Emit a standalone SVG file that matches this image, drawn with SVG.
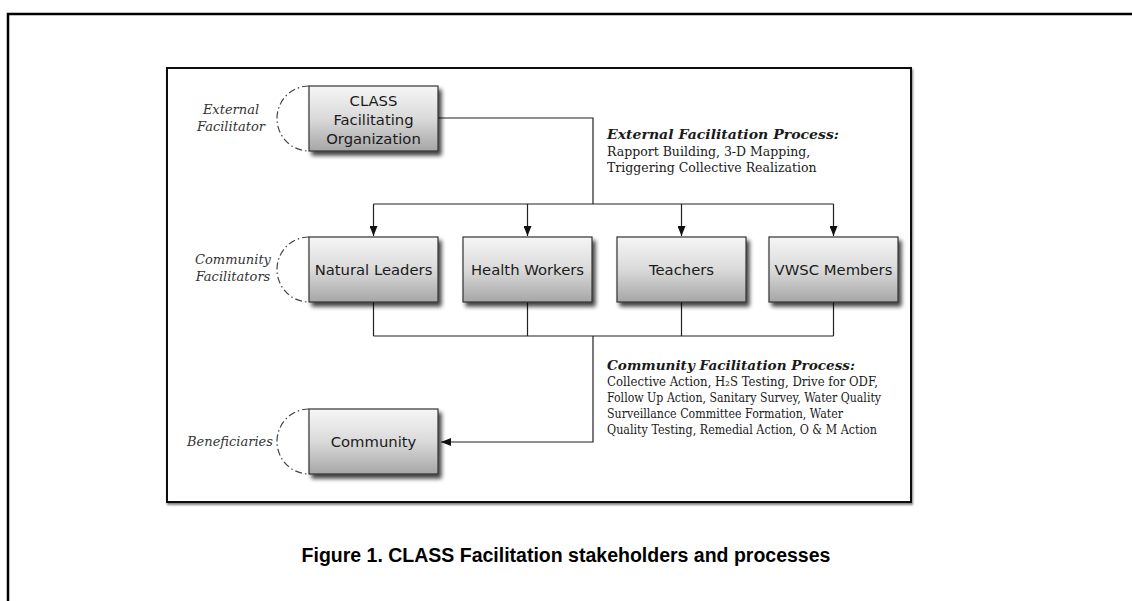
<svg xmlns="http://www.w3.org/2000/svg" width="1132" height="601" viewBox="0 0 1132 601">
<defs>
<linearGradient id="boxg" x1="0" y1="0" x2="0" y2="1">
<stop offset="0" stop-color="#f6f6f6"/>
<stop offset="0.5" stop-color="#dadada"/>
<stop offset="1" stop-color="#a6a6a6"/>
</linearGradient>
<filter id="sh" x="-10%" y="-10%" width="130%" height="140%">
<feGaussianBlur in="SourceAlpha" stdDeviation="2"/>
<feOffset dx="3" dy="4"/>
<feComponentTransfer><feFuncA type="linear" slope="0.75"/></feComponentTransfer>
<feMerge><feMergeNode/><feMergeNode in="SourceGraphic"/></feMerge>
</filter>
<filter id="fsh" x="-2%" y="-2%" width="104%" height="106%">
<feGaussianBlur in="SourceAlpha" stdDeviation="1"/>
<feOffset dx="1" dy="2"/>
<feComponentTransfer><feFuncA type="linear" slope="0.5"/></feComponentTransfer>
<feMerge><feMergeNode/><feMergeNode in="SourceGraphic"/></feMerge>
</filter>
<marker id="arr" markerUnits="userSpaceOnUse" markerWidth="10" markerHeight="8" refX="10" refY="4" orient="auto">
<path d="M0,0 L10,4 L0,8 z" fill="#111"/>
</marker>
<style>
.box{fill:url(#boxg);stroke:#333;stroke-width:1.2;filter:url(#sh)}
.bt{font-family:"DejaVu Sans","Liberation Sans",sans-serif;font-size:14.8px;fill:#1a1a1a;text-anchor:middle}
.arc{fill:none;stroke:#444;stroke-width:1.2;stroke-dasharray:7 3 1.5 3}
.lab{font-family:"DejaVu Serif",Georgia,serif;font-style:italic;font-size:13px;fill:#333;text-anchor:middle}
.ph{font-family:"DejaVu Serif",Georgia,serif;font-style:italic;font-weight:bold;font-size:13.5px;fill:#1a1a1a}
.pt{font-family:"DejaVu Serif",Georgia,serif;font-size:12.5px;fill:#1a1a1a}
.ln{fill:none;stroke:#222;stroke-width:1.2}
.cap{font-family:"Liberation Sans",Arial,sans-serif;font-weight:bold;font-size:19.5px;fill:#000;text-anchor:middle}
</style>
</defs>
<rect width="1132" height="601" fill="#fff"/>
<path d="M1132,14 H8 V601" fill="none" stroke="#000" stroke-width="2.5"/>
<rect x="167" y="68" width="744" height="434" fill="#fff" stroke="#111" stroke-width="2" filter="url(#fsh)"/>

<g id="connectors">
<path class="ln" d="M438,118 H593 V204"/>
<path class="ln" d="M373.5,204 H833.5"/>
<path class="ln" d="M373.5,204 V236" marker-end="url(#arr)"/>
<path class="ln" d="M527.5,204 V236" marker-end="url(#arr)"/>
<path class="ln" d="M681.5,204 V236" marker-end="url(#arr)"/>
<path class="ln" d="M833.5,204 V236" marker-end="url(#arr)"/>
<path class="ln" d="M373.5,302 V336 M527.5,302 V336 M681.5,302 V336 M833.5,302 V336"/>
<path class="ln" d="M373.5,336 H833.5"/>
<path class="ln" d="M593,336 V442 H441" marker-end="url(#arr)"/>
</g>

<g id="label-external">
<path class="arc" d="M309,86 A32,32.5 0 0 0 309,151"/>
<text class="lab" x="231" y="114">External</text>
<text class="lab" x="231" y="131">Facilitator</text>
</g>
<g id="node-class">
<rect class="box" x="309" y="86" width="129" height="65"/>
<text class="bt" x="373.5" y="106">CLASS</text>
<text class="bt" x="373.5" y="125">Facilitating</text>
<text class="bt" x="373.5" y="144">Organization</text>
</g>

<g id="label-community-facilitators">
<path class="arc" d="M309,237 A32,32.5 0 0 0 309,302"/>
<text class="lab" x="233" y="264">Community</text>
<text class="lab" x="233" y="281">Facilitators</text>
</g>
<g id="node-natural-leaders">
<rect class="box" x="309" y="237" width="129" height="65"/>
<text class="bt" x="373.5" y="275">Natural Leaders</text>
</g>
<g id="node-health-workers">
<rect class="box" x="463" y="237" width="129" height="65"/>
<text class="bt" x="527.5" y="275">Health Workers</text>
</g>
<g id="node-teachers">
<rect class="box" x="617" y="237" width="129" height="65"/>
<text class="bt" x="681.5" y="275">Teachers</text>
</g>
<g id="node-vwsc">
<rect class="box" x="769" y="237" width="129" height="65"/>
<text class="bt" x="833.5" y="275">VWSC Members</text>
</g>

<g id="label-beneficiaries">
<path class="arc" d="M309,409 A32,32.5 0 0 0 309,474"/>
<text class="lab" x="230" y="446">Beneficiaries</text>
</g>
<g id="node-community">
<rect class="box" x="309" y="409" width="129" height="65"/>
<text class="bt" x="373.5" y="447">Community</text>
</g>

<g id="text-external-process">
<text class="ph" x="607" y="139" textLength="232" lengthAdjust="spacingAndGlyphs">External Facilitation Process:</text>
<text class="pt" x="607" y="156">Rapport Building, 3-D Mapping,</text>
<text class="pt" x="607" y="172">Triggering Collective Realization</text>
</g>
<g id="text-community-process">
<text class="ph" x="607" y="370" textLength="248" lengthAdjust="spacingAndGlyphs">Community Facilitation Process:</text>
<text class="pt" x="607" y="386" textLength="271" lengthAdjust="spacingAndGlyphs">Collective Action, H₂S Testing, Drive for ODF,</text>
<text class="pt" x="607" y="402" textLength="274" lengthAdjust="spacingAndGlyphs">Follow Up Action, Sanitary Survey, Water Quality</text>
<text class="pt" x="607" y="418" textLength="236" lengthAdjust="spacingAndGlyphs">Surveillance Committee Formation, Water</text>
<text class="pt" x="607" y="434" textLength="270" lengthAdjust="spacingAndGlyphs">Quality Testing, Remedial Action, O &amp; M Action</text>
</g>

<text class="cap" x="566" y="562">Figure 1. CLASS Facilitation stakeholders and processes</text>
</svg>
